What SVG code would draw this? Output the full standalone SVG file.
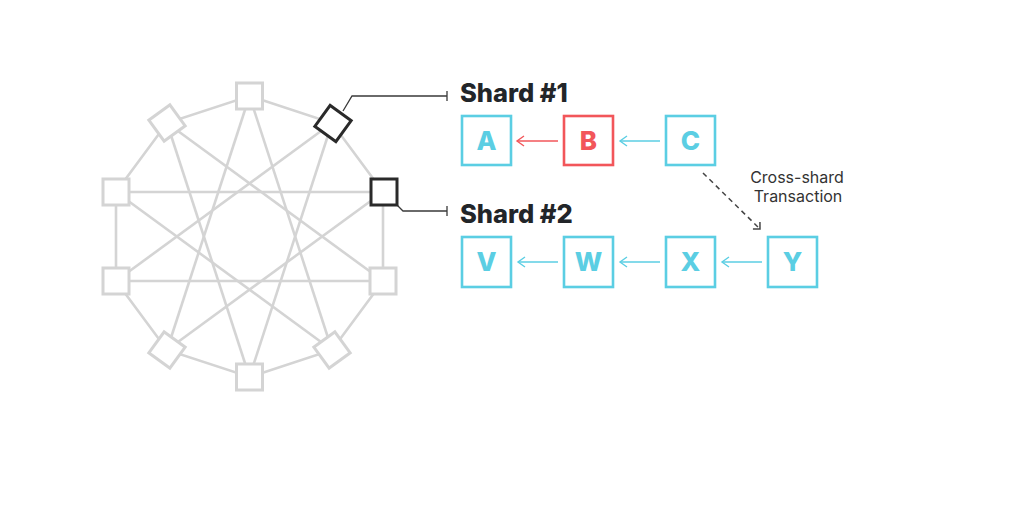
<svg xmlns="http://www.w3.org/2000/svg" width="1024" height="512" viewBox="0 0 1024 512">
<style>
.edge{stroke:#d4d4d4;stroke-width:2.6;fill:none}
.gnode{fill:#fff;stroke:#d4d4d4;stroke-width:3}
.dnode{fill:#fff;stroke:#2a2a2a;stroke-width:3}
.lead{stroke:#3a3a3a;stroke-width:1.3;fill:none}
.box{fill:#fff;stroke:#5bcee3;stroke-width:2.6}
.rbox{fill:#fff;stroke:#f2565a;stroke-width:2.6}
.lt{font-family:Inter,"Liberation Sans",sans-serif;font-weight:800;font-size:26px;text-anchor:middle;fill:#5bcee3}
.rt{fill:#f2565a}
.hd{font-family:Inter,"Liberation Sans",sans-serif;font-weight:800;font-size:25.5px;fill:#222529}
.lab{font-family:Inter,"Liberation Sans",sans-serif;font-weight:400;font-size:16px;fill:#333;text-anchor:middle}
.ca{stroke:#5bcee3;stroke-width:1.4;fill:none}
.ra{stroke:#f2565a;stroke-width:1.4;fill:none}
.da{stroke:#444;stroke-width:1.5;fill:none;stroke-dasharray:5 4}
</style>
<defs>
<marker id="mc" markerUnits="userSpaceOnUse" markerWidth="20" markerHeight="20" viewBox="-10 -10 20 20" refX="0" refY="0" orient="auto"><path d="M-7,-5 L0,0 L-7,5" fill="none" stroke="#5bcee3" stroke-width="1.4"/></marker>
<marker id="mr" markerUnits="userSpaceOnUse" markerWidth="20" markerHeight="20" viewBox="-10 -10 20 20" refX="0" refY="0" orient="auto"><path d="M-7,-5 L0,0 L-7,5" fill="none" stroke="#f2565a" stroke-width="1.4"/></marker>
<marker id="md" markerUnits="userSpaceOnUse" markerWidth="20" markerHeight="20" viewBox="-10 -10 20 20" refX="0" refY="0" orient="auto"><path d="M-5,-5 L0,0 L-5,5" fill="none" stroke="#444" stroke-width="1.5"/></marker>
</defs>
<rect width="1024" height="512" fill="#fff"/>
<g id="connectors">
<g id="mesh">
<polygon class="edge" points="249.5,96 332,123 383,192 383,281 332,350 249.5,377 167,350 116,281 116,192 167,123"/>
<line class="edge" x1="249.5" y1="96" x2="332" y2="350"/>
<line class="edge" x1="332" y1="123" x2="249.5" y2="377"/>
<line class="edge" x1="383" y1="192" x2="167" y2="350"/>
<line class="edge" x1="383" y1="281" x2="116" y2="281"/>
<line class="edge" x1="332" y1="350" x2="116" y2="192"/>
<line class="edge" x1="249.5" y1="377" x2="167" y2="123"/>
<line class="edge" x1="167" y1="350" x2="249.5" y2="96"/>
<line class="edge" x1="116" y1="281" x2="332" y2="123"/>
<line class="edge" x1="116" y1="192" x2="383" y2="192"/>
<line class="edge" x1="167" y1="123" x2="383" y2="281"/>
</g>
<path class="lead" d="M343,111 L352,96 L447,96 M447,91 L447,101"/>
<path class="lead" d="M397,205 L403,211 L447,211 M447,206 L447,216"/>
<line class="ra" x1="558" y1="141" x2="517" y2="141" marker-end="url(#mr)"/>
<line class="ca" x1="660" y1="141" x2="620" y2="141" marker-end="url(#mc)"/>
<line class="ca" x1="558" y1="262" x2="518" y2="262" marker-end="url(#mc)"/>
<line class="ca" x1="660" y1="262" x2="620" y2="262" marker-end="url(#mc)"/>
<line class="ca" x1="762" y1="262" x2="722" y2="262" marker-end="url(#mc)"/>
<line class="da" x1="703" y1="173" x2="760" y2="229" marker-end="url(#md)"/>
</g>
<g id="n0"><rect class="gnode" x="236.5" y="83" width="26" height="26"/></g>
<g id="n1"><rect class="dnode" x="-13" y="-13" width="26" height="26" transform="translate(333,123.5) rotate(36)"/></g>
<g id="n2"><rect class="dnode" x="371" y="179" width="26" height="26"/></g>
<g id="n3"><rect class="gnode" x="370" y="268" width="26" height="26"/></g>
<g id="n4"><rect class="gnode" x="-13" y="-13" width="26" height="26" transform="translate(332,350) rotate(-36)"/></g>
<g id="n5"><rect class="gnode" x="236.5" y="364" width="26" height="26"/></g>
<g id="n6"><rect class="gnode" x="-13" y="-13" width="26" height="26" transform="translate(167,350) rotate(36)"/></g>
<g id="n7"><rect class="gnode" x="103" y="268" width="26" height="26"/></g>
<g id="n8"><rect class="gnode" x="103" y="179" width="26" height="26"/></g>
<g id="n9"><rect class="gnode" x="-13" y="-13" width="26" height="26" transform="translate(167,123) rotate(-36)"/></g>
<g id="shard1-label"><text class="hd" x="460" y="102">Shard #1</text></g>
<g id="shard2-label"><text class="hd" x="460" y="223">Shard #2</text></g>
<g id="A"><rect class="box" x="462" y="116" width="49" height="49"/><text class="lt" x="486.5" y="150">A</text></g>
<g id="B"><rect class="rbox" x="564" y="116" width="49" height="49"/><text class="lt rt" x="588.5" y="150">B</text></g>
<g id="C"><rect class="box" x="666" y="116" width="49" height="49"/><text class="lt" x="690.5" y="150">C</text></g>
<g id="V"><rect class="box" x="462" y="237" width="49" height="50"/><text class="lt" x="486.5" y="271">V</text></g>
<g id="W"><rect class="box" x="564" y="237" width="49" height="50"/><text class="lt" x="588.5" y="271">W</text></g>
<g id="X"><rect class="box" x="666" y="237" width="49" height="50"/><text class="lt" x="690.5" y="271">X</text></g>
<g id="Y"><rect class="box" x="768" y="237" width="49" height="50"/><text class="lt" x="792.5" y="271">Y</text></g>
<g id="cross-label"><text class="lab" x="797" y="183">Cross-shard</text><text class="lab" x="798" y="202">Transaction</text></g>
</svg>
